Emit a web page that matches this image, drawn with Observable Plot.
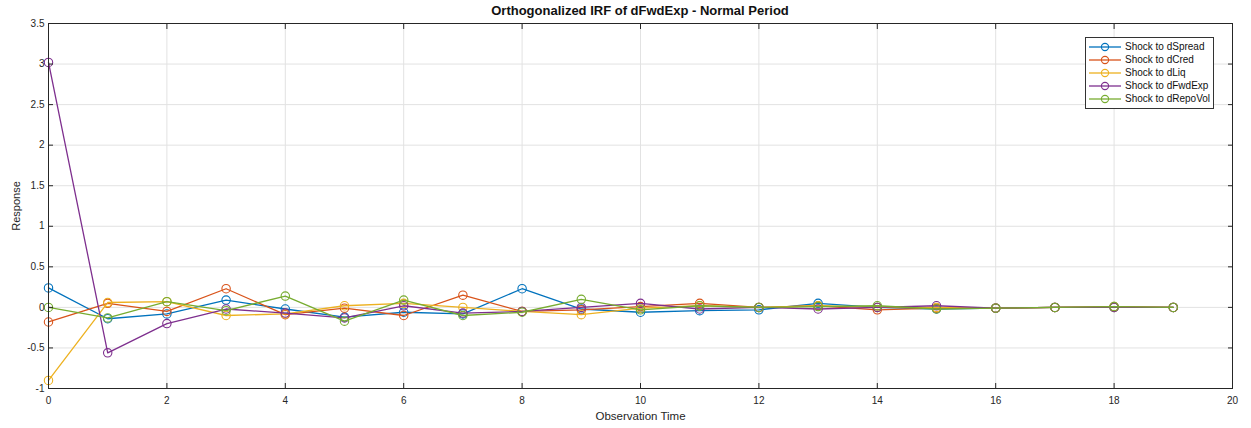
<!DOCTYPE html>
<html>
<head>
<meta charset="utf-8">
<script src="https://cdn.jsdelivr.net/npm/d3@7"></script>
<script src="https://cdn.jsdelivr.net/npm/@observablehq/plot@0.6"></script>
<style>
  html, body { margin: 0; padding: 0; background: #fff; }
  #wrap { position: relative; width: 1251px; height: 428px; font-family: "Liberation Sans", Arial, sans-serif; }
  #title { position: absolute; left: 48px; width: 1184px; top: 3px; text-align: center; font-weight: bold; font-size: 13px; color: #111; }
  #legend { position: absolute; left: 1085px; top: 37px; width: 127px; padding: 2px 0 3px 0; border: 1px solid #333; background: #fff; font-size: 10px; color: #111; }
  .item { display: flex; align-items: center; height: 13px; }
  .item svg { margin-left: 3px; margin-right: 4px; }
</style>
</head>
<body>
<div id="wrap">
  <div id="title">Orthogonalized IRF of dFwdExp - Normal Period</div>
  <div id="chart"></div>
  <div id="legend"></div>
</div>
<script>
const time = [0,1,2,3,4,5,6,7,8,9,10,11,12,13,14,15,16,17,18,19];
const seriesNames = ["Shock to dSpread","Shock to dCred","Shock to dLiq","Shock to dFwdExp","Shock to dRepoVol"];
const colors = ["#0072BD","#D95319","#EDB120","#7E2F8E","#77AC30"];
const dSpread = [0.24,-0.14,-0.08,0.09,-0.02,-0.12,-0.06,-0.08,0.23,-0.02,-0.06,-0.04,-0.03,0.05,0.0,-0.02,-0.01,0.0,0.0,0.0];
const dCred   = [-0.18,0.05,-0.05,0.23,-0.09,-0.01,-0.10,0.15,-0.05,-0.03,0.01,0.05,0.0,0.02,-0.03,-0.01,-0.01,0.0,0.01,0.0];
const dLiq    = [-0.90,0.06,0.07,-0.10,-0.08,0.02,0.05,0.0,-0.05,-0.09,-0.01,0.02,0.0,0.02,0.0,0.0,-0.01,0.0,0.0,0.0];
const dFwdExp = [3.02,-0.56,-0.20,-0.02,-0.07,-0.13,0.02,-0.07,-0.05,0.0,0.05,-0.02,0.0,-0.02,0.0,0.02,-0.01,0.0,0.0,0.0];
const dRepoVol= [0.0,-0.13,0.07,-0.04,0.14,-0.17,0.09,-0.10,-0.06,0.10,-0.03,0.02,0.0,0.01,0.02,-0.02,-0.01,0.0,0.01,0.0];
const xTicks = [0,2,4,6,8,10,12,14,16,18,20];
const yTicks = [-1,-0.5,0,0.5,1,1.5,2,2.5,3,3.5];

const allSeries = [dSpread,dCred,dLiq,dFwdExp,dRepoVol];
const seriesMarks = [];
allSeries.forEach((vals, i) => {
  const data = time.map((t, j) => ({t, v: vals[j]}));
  seriesMarks.push(Plot.line(data, {x: "t", y: "v", stroke: colors[i], strokeWidth: 1.3}));
  seriesMarks.push(Plot.dot(data, {x: "t", y: "v", stroke: colors[i], fill: "none", r: 4.2, strokeWidth: 1.1}));
});

const fmt = d => String(d);
const chart = Plot.plot({
  width: 1251,
  height: 428,
  marginLeft: 48,
  marginRight: 19,
  marginTop: 23,
  marginBottom: 40,
  style: {fontFamily: "'Liberation Sans', Arial, sans-serif", fontSize: "10px", color: "#262626", background: "#fff"},
  x: {domain: [0, 20]},
  y: {domain: [-1, 3.5]},
  marks: [
    Plot.gridX(xTicks, {stroke: "#e2e2e2", strokeOpacity: 1}),
    Plot.gridY(yTicks, {stroke: "#e2e2e2", strokeOpacity: 1}),
    ...seriesMarks,
    Plot.frame({stroke: "#262626", strokeWidth: 1}),
    Plot.axisX({anchor: "bottom", ticks: xTicks, tickSize: -5, tickPadding: 13, tickFormat: fmt, fontSize: 10, label: null}),
    Plot.axisX({anchor: "bottom", ticks: [], label: "Observation Time", labelAnchor: "center", labelArrow: "none", labelOffset: 31, fontSize: 11.5}),
    Plot.axisX({anchor: "top", ticks: xTicks, tickSize: -5, tickFormat: () => "", label: null}),
    Plot.axisY({anchor: "left", ticks: yTicks, tickSize: -5, tickPadding: 9, tickFormat: fmt, fontSize: 10, label: null}),
    Plot.axisY({anchor: "left", ticks: [], label: "Response", labelAnchor: "center", labelArrow: "none", labelOffset: 36, fontSize: 11}),
    Plot.axisY({anchor: "right", ticks: yTicks, tickSize: -5, tickFormat: () => "", label: null})
  ]
});
document.getElementById("chart").appendChild(chart);

const legend = document.getElementById("legend");
seriesNames.forEach((name, i) => {
  const item = document.createElement("div");
  item.className = "item";
  item.innerHTML = `<svg width="32" height="10"><line x1="0" y1="5" x2="32" y2="5" stroke="${colors[i]}" stroke-width="1.3"/><circle cx="16" cy="5" r="3.6" fill="none" stroke="${colors[i]}" stroke-width="1.1"/></svg><span>${name}</span>`;
  legend.appendChild(item);
});
</script>
</body>
</html>
